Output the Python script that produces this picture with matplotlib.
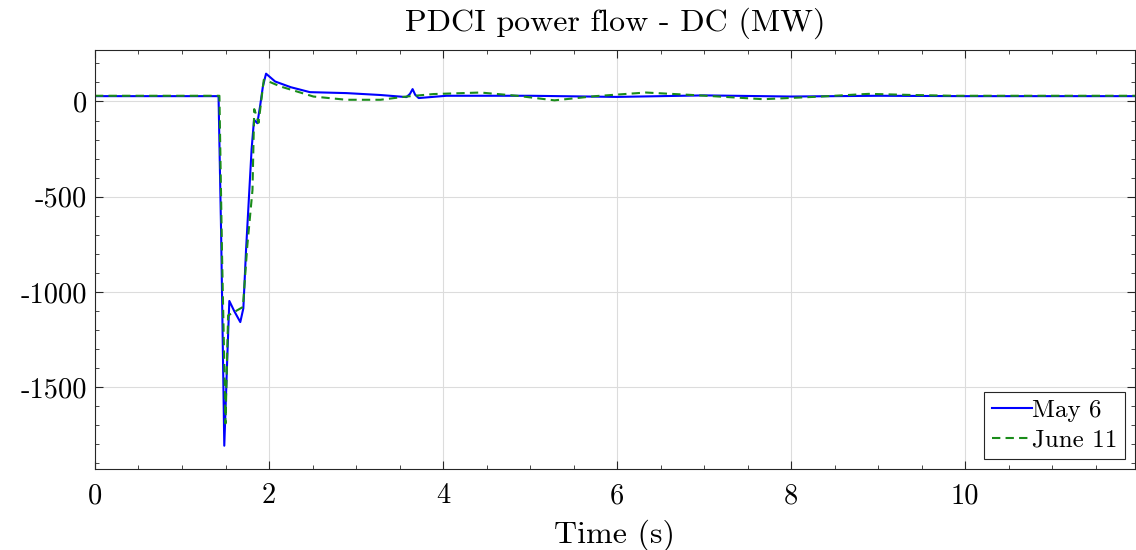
import numpy as np
import matplotlib
matplotlib.use("Agg")
import matplotlib.pyplot as plt
from matplotlib.ticker import MultipleLocator

plt.rcParams['font.family'] = ['cmr10', 'DejaVu Serif']
plt.rcParams['axes.unicode_minus'] = False
plt.rcParams['axes.formatter.use_mathtext'] = False

# May 6 event
t_may = [0.0, 1.0, 1.42, 1.45, 1.486, 1.52, 1.544, 1.60, 1.67, 1.705, 1.736, 1.774,
         1.80, 1.828, 1.866, 1.897, 1.93, 1.966, 2.07, 2.25, 2.47, 2.89, 3.28, 3.58,
         3.62, 3.65, 3.68, 3.72, 4.04, 5.0, 6.0, 7.0, 8.0, 9.0, 10.0, 11.95]
p_may = [28, 28, 28, -700, -1807, -1350, -1047, -1100, -1158, -1086, -781, -465,
         -250, -96, -114, -26, 80, 146, 105, 75, 49, 44, 34, 23,
         40, 65, 35, 18, 30, 30, 24, 32, 26, 30, 28, 28]

# June 11 event
t_jun = [0.0, 1.0, 1.43, 1.46, 1.50, 1.53, 1.60, 1.70, 1.75, 1.81, 1.83, 1.845,
         1.88, 1.94, 1.97, 2.13, 2.51, 2.89, 3.28, 3.58, 3.89, 4.43, 4.85, 5.28,
         5.75, 6.33, 6.95, 7.68, 8.3, 8.89, 9.4, 9.87, 11.95]
p_jun = [30, 30, 30, -800, -1690, -1123, -1105, -1079, -760, -465, -40, -60,
         -112, 114, 110, 79, 26, 9, 9, 26, 39, 47, 30, 6,
         28, 47, 32, 12, 25, 40, 34, 30, 30]

fig, ax = plt.subplots(figsize=(11.36, 5.5), dpi=100)
fig.subplots_adjust(left=0.0836, right=0.999, bottom=0.147, top=0.909)

ax.plot(t_may, p_may, color='#0000ff', lw=1.5, label='May 6')
ax.plot(t_jun, p_jun, color='#1a8c1a', lw=1.5, ls=(0, (4, 2.5)), label='June 11')

ax.set_xlim(0, 11.95)
ax.set_ylim(-1930, 270)
ax.set_xticks([0, 2, 4, 6, 8, 10])
ax.set_yticks([0, -500, -1000, -1500])
ax.xaxis.set_minor_locator(MultipleLocator(0.5))
ax.yaxis.set_minor_locator(MultipleLocator(100))
ax.tick_params(which='both', direction='in', top=True, right=True,
               color='#262626', labelsize=20.5)
ax.tick_params(which='major', length=6, width=0.8, pad=6)
ax.tick_params(axis='x', which='major', pad=10)
ax.tick_params(which='minor', length=3, width=0.6)
for s in ax.spines.values():
    s.set_color('#262626')
    s.set_linewidth(0.8)
ax.grid(True, which='major', color='#dcdcdc', lw=0.8)
ax.set_axisbelow(True)

ax.set_title('PDCI power flow - DC (MW)', fontsize=23, pad=14)
ax.set_xlabel('Time (s)', fontsize=23, labelpad=7)

leg = ax.legend(loc='lower right', fontsize=18, handlelength=1.6, handletextpad=0.0,
                fancybox=False, framealpha=1, edgecolor='#262626',
                borderpad=0.3, labelspacing=0.3, borderaxespad=0.4)
leg.get_frame().set_linewidth(0.8)

fig.savefig('out.png', dpi=100)
